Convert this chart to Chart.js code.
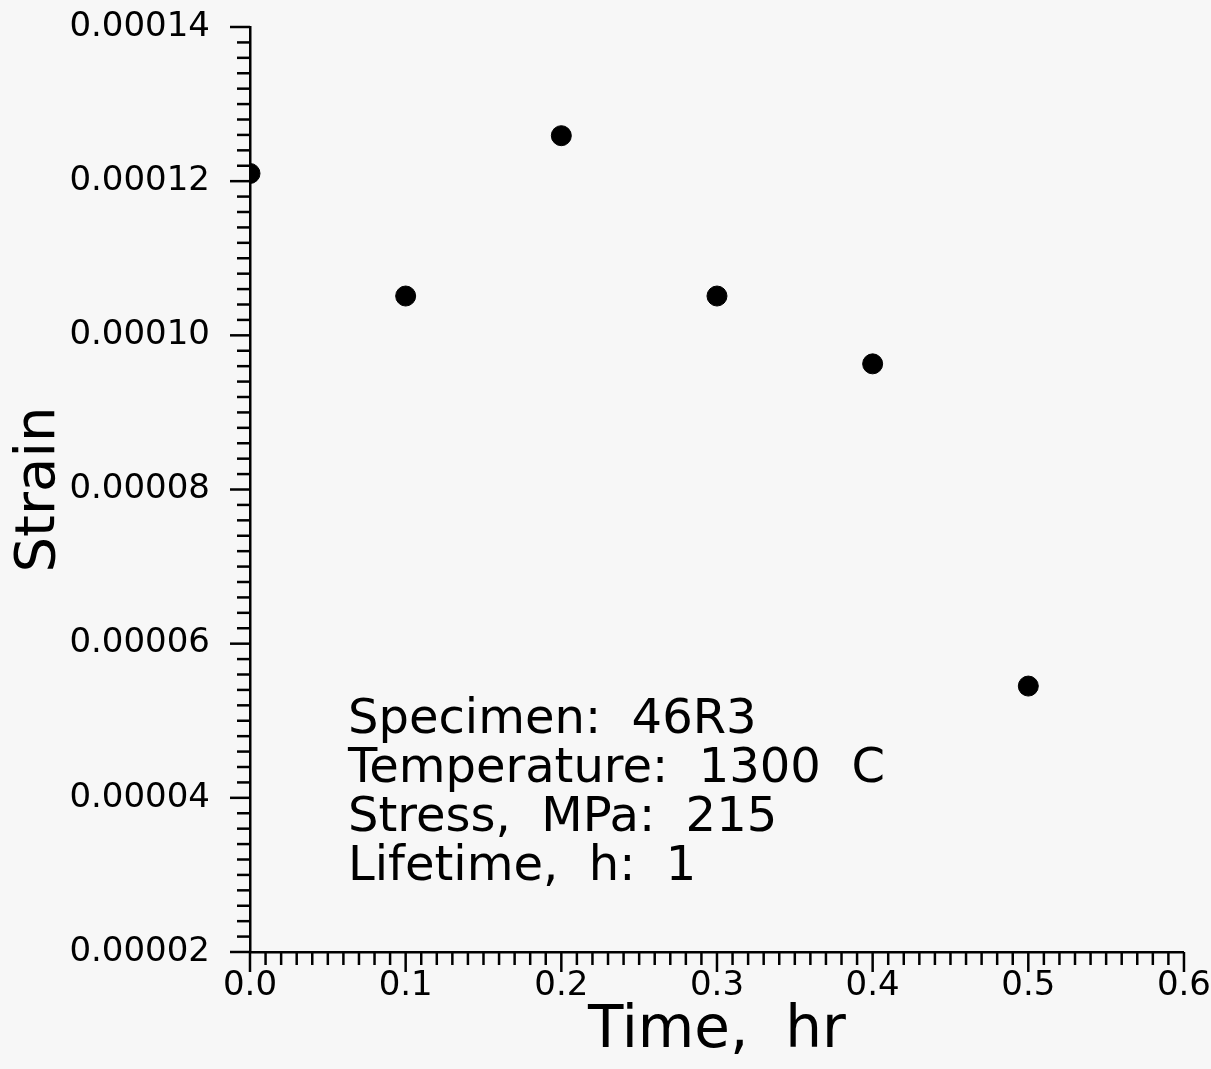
<!DOCTYPE html>
<html>
<head>
<meta charset="utf-8">
<script src="https://cdn.jsdelivr.net/npm/chart.js@4/dist/chart.umd.min.js"></script>
<style>
    html, body { margin: 0; padding: 0; background: #f7f7f7; }
    #wrap { width: 1211px; height: 1069px; position: relative; }
</style>
</head>
<body>
<div id="wrap"><canvas id="strainChart"></canvas></div>
<script>
// creep test readings
const timeHr = [0.0, 0.1, 0.2, 0.3, 0.4, 0.5];
const strain = [0.000121, 0.0001051, 0.0001259, 0.0001051, 0.0000963, 0.0000545];

const xMin = 0.0, xMax = 0.6, xMinor = 0.01, xMajor = 0.1;
const yMin = 0.00002, yMax = 0.00014, yMinor = 0.000002, yMajor = 0.00002;

const noteLines = ['Specimen:  46R3', 'Temperature:  1300  C', 'Stress,  MPa:  215', 'Lifetime,  h:  1'];

const FONT = "'DejaVu Sans', sans-serif";

function isMajor(v, step) {
    const r = v / step;
    return Math.abs(r - Math.round(r)) < 1e-6;
}

// hand-drawn tick marks so major and minor ticks get different lengths
const tickMarks = {
    id: 'tickMarks',
    afterDraw(chart) {
        const ctx = chart.ctx;
        const xs = chart.scales.x, ys = chart.scales.y;
        const area = chart.chartArea;
        ctx.save();
        ctx.strokeStyle = '#000';
        ctx.lineWidth = 2.5;
        ctx.lineCap = 'butt';
        xs.ticks.forEach(t => {
            const px = xs.getPixelForValue(t.value);
            const len = isMajor(t.value, xMajor) ? 20 : 13;
            ctx.beginPath();
            ctx.moveTo(px, area.bottom);
            ctx.lineTo(px, area.bottom + len);
            ctx.stroke();
        });
        ys.ticks.forEach(t => {
            const py = ys.getPixelForValue(t.value);
            const len = isMajor(t.value - yMin, yMajor) ? 20 : 13;
            ctx.beginPath();
            ctx.moveTo(area.left, py);
            ctx.lineTo(area.left - len, py);
            ctx.stroke();
        });
        ctx.restore();
    }
};

const noteText = {
    id: 'noteText',
    afterDraw(chart) {
        const ctx = chart.ctx;
        const area = chart.chartArea;
        ctx.save();
        ctx.fillStyle = '#000';
        ctx.font = '48px ' + FONT;
        ctx.textBaseline = 'alphabetic';
        noteLines.forEach((line, i) => {
            ctx.fillText(line, area.left + 98, area.top + 706 + i * 49);
        });
        ctx.restore();
    }
};

const ctx = document.getElementById('strainChart').getContext('2d');
new Chart(ctx, {
    type: 'scatter',
    data: {
        datasets: [{
            data: timeHr.map((t, i) => ({ x: t, y: strain[i] })),
            backgroundColor: '#000',
            borderColor: '#000',
            pointRadius: 10,
            pointHoverRadius: 10
        }]
    },
    options: {
        responsive: true,
        maintainAspectRatio: false,
        animation: false,
        layout: { padding: { top: 27, right: 26, left: 0, bottom: 0 } },
        plugins: {
            legend: { display: false },
            tooltip: { enabled: false }
        },
        scales: {
            x: {
                type: 'linear',
                min: xMin,
                max: xMax,
                afterFit: s => { s.height = 117; },
                border: { display: true, color: '#000', width: 2.5 },
                grid: { display: true, drawOnChartArea: false, tickLength: 14, tickColor: 'rgba(0,0,0,0)' },
                ticks: {
                    stepSize: xMinor,
                    autoSkip: false,
                    maxRotation: 0,
                    padding: 0,
                    color: '#000',
                    font: { family: FONT, size: 34 },
                    callback: v => isMajor(v, xMajor) ? v.toFixed(1) : ''
                },
                title: {
                    display: true,
                    text: 'Time,  hr',
                    color: '#000',
                    font: { family: FONT, size: 58 },
                    padding: { top: 0, bottom: 2 }
                }
            },
            y: {
                type: 'linear',
                min: yMin,
                max: yMax,
                afterFit: s => { s.width = 250; },
                border: { display: true, color: '#000', width: 2.5 },
                grid: { display: true, drawOnChartArea: false, tickLength: 38, tickColor: 'rgba(0,0,0,0)' },
                ticks: {
                    stepSize: yMinor,
                    autoSkip: false,
                    padding: 2,
                    color: '#000',
                    font: { family: FONT, size: 34 },
                    callback: v => isMajor(v - yMin, yMajor) ? v.toFixed(5) : ''
                },
                title: {
                    display: true,
                    text: 'Strain',
                    color: '#000',
                    font: { family: FONT, size: 56 },
                    padding: { top: 6, bottom: 0 }
                }
            }
        }
    },
    plugins: [tickMarks, noteText]
});
</script>
</body>
</html>
